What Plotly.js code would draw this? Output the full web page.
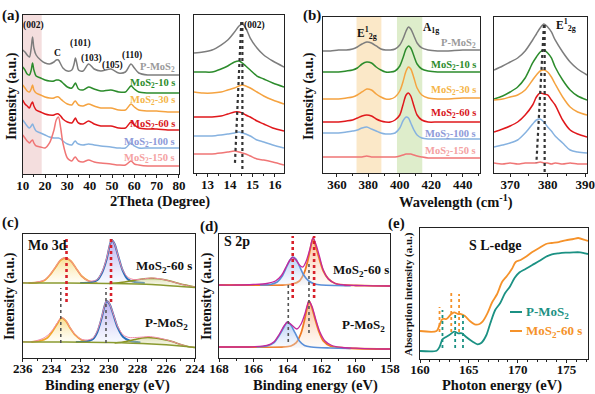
<!DOCTYPE html>
<html><head><meta charset="utf-8">
<script src="https://cdn.plot.ly/plotly-3.0.1.min.js"></script>
<style>html,body{margin:0;padding:0;background:#fff}#chart{width:595px;height:394px}</style>
</head><body><div id="chart"></div>
<script>
// ---------- (a) XRD ----------
const seriesNames = ['P-MoS<sub>2</sub>','MoS<sub>2</sub>-10 s','MoS<sub>2</sub>-30 s','MoS<sub>2</sub>-60 s','MoS<sub>2</sub>-100 s','MoS<sub>2</sub>-150 s'];
const xrdX = [10,11,12,13,13.8,14.4,15,16,18,20,22,24,25,26,27,28,30,32,33,33.6,34.3,35,37,39.5,42,45,49.5,53,56,58.5,60,62,66,70,75,80];
const xrdP   = [124,122,119,117,126,137,126,119,114,111,110,112,114,114,110,106,103,104,110,116,110,104,103,110,105,103,105,101,102,110,106,101,99,99,99,99];
const xrd10  = [107,104,100,99,104,111,104,98,96,94,93,93,94,94,93,91,87,86,89,91,88,85,84,87,85,83,84,82,82,88,85,82,81,81,81,81];
const xrd30  = [89,86,83,82,85,89,84,81,79,77,76,76,77,77,75,73,70,69,72,73,71,69,68,70,68,66,66,64,64,70,67,64,63,63,62,62];
const xrd60  = [74,70,68,66,70,72,68,64,62,60,59,59,60,60,58,55,52,51,54,56,53,51,50,53,50,48,48,46,46,52,49,46,45,45,44,44];
const xrd100 = [54,51,48,46,48,50,47,43,41,39,37,36,36,36,35,33,30,29,32,33,31,30,29,30,29,28,27,26,26,31,28,26,26,26,26,26];
const xrd150 = [39,36,33,31,33,34,31,28,27,26,31,44,54,57,46,31,16,13,16,17,15,13,12,14,12,11,10,9,9,13,10,9,8,8,8,8];
const xrdPeakLabels = ['(002)','C','(101)','(103)','(105)','(110)'];
const xrdPeakX = [15,25.6,35.9,41,50,59];
const xrdPeakY = [149,121,131,116,109,119];
const xrdBand = [10,18.5];
// (a) inset
const xrdZoomX = [12.4,12.8,13.2,13.6,13.9,14.2,14.4,14.55,14.7,14.9,15.2,15.5,15.9,16.4];
const xrdZP   = [120,121,123,128,133,141,147,149,145,135,125,118,112,106];
const xrdZ10  = [101,101,101,104,107,111,112,110,107,103,97,94,90,86];
const xrdZ30  = [81,80,80,81,83,85,87,88,87,85,81,77,73,69];
const xrdZ60  = [56,56,56,57,59,61,61,60,58,56,52,49,45,42];
const xrdZ100 = [37,37,37,38,39,40,41,40,39,37,33,31,28,25];
const xrdZ150 = [19,19,19,20,21,22,21,20,19,17,14,13,11,8];
const xrdGuideX = [[14.55,14.55],[14.5,14.22]];
const xrdGuideY = [[151,1],[151,10]];

// ---------- (b) Raman ----------
const ramX = [351,356,361,366,370,373,376,379,382,385,388,391,394,397,400,402,404,405.5,407,409,411,414,418,424,430,440,451];
const ramP   = [122,122,123,123,124,126,129,131,130,127,124,123,123,124,128,134,142,146,144,137,130,125,123,122,122,123,123];
const ram10  = [101,101,101,102,103,105,109,111,110,106,103,101,101,102,107,115,124,127,125,117,109,104,102,101,101,101,101];
const ram30  = [74,74,74,75,76,78,81,84,83,79,76,74,74,76,82,91,102,106,104,95,85,78,75,74,74,75,75];
const ram60  = [51,51,51,52,53,55,57,58,57,54,52,51,51,53,58,68,78,80,77,67,58,53,51,51,51,51,51];
const ram100 = [40,40,40,41,42,43,45,46,44,42,40,39,39,40,45,52,56,55,50,43,38,35,34,34,34,34,34];
const ram150 = [16,16,16,16,16,16,16,17,16,16,16,16,16,16,17,18,19,19,19,18,17,16,15,15,15,15,15];
const ramBandE = [372.5,388.3];
const ramBandA = [398.2,414.3];
// (b) inset
const ramZoomX = [365.7,368,370,372,374,376,377,378,379,380,381,382,384,386,388,390.5];
const ramZP   = [103,107,111,115,122,133,139,145,149,146,141,133,121,111,104,98];
const ramZ10  = [74,77,81,86,95,110,116,121,123,120,115,106,93,83,77,73];
const ramZ30  = [73,74,76,78,83,93,98,102,103,101,96,89,76,66,61,58];
const ramZ60  = [41,44,47,51,58,68,76,80,79,78,73,68,53,43,39,36];
const ramZ100 = [26,28,30,33,40,49,53,54,51,46,42,37,30,23,21,20];
const ramZ150 = [10,9,10,9,10,10,10,11,10,10,9,10,9,10,9,9];
const ramGuideX = [[379.2,379.2],[379.0,377.0]];
const ramGuideY = [[148,1],[148,10]];

// ---------- (c) Mo 3d ----------
const moUpRawX = [236,235.5,235,234.5,234.1,233.7,233.35,233.0,232.65,232.3,231.9,231.5,231.1,230.8,230.45,230.15,229.95,229.8,229.6,229.35,229.05,228.7,228.3,227.9,227.4,226.9,226.4,225.9,225.4,224.9,224.4,224];
const moUpRawY = [75.5,75,76,78,83.5,91.5,98.5,100.5,97,90,82,77.5,77,78.5,87,100,112.5,118,114,102,88.5,81,78.5,78.5,79.5,80,79,77.5,75.5,73.5,72,71];
const moUpOrX = [235.6,235,234.5,234.1,233.7,233.35,233.0,232.65,232.3,231.9,231.4,230.8];
const moUpOrY = [75,75.5,77.5,83,91,98,100,97,90,82,77,75];
const moUpBlX = [232,231.3,230.8,230.45,230.15,229.95,229.8,229.6,229.35,229.05,228.7,228.2,227.5];
const moUpBlY = [75,75.5,78,86,99,112,118,114,102,88,79,76,75];
const moUpOlX = [230,229.2,228.5,227.9,227.3,226.8,226.2,225.6,225,224.5,224];
const moUpOlY = [74.5,75.5,77,78.5,79.5,79.5,78.5,76.5,74,72.5,71];
const moBaseX = [236,233,230,227,225,224];
const moUpBaseY = [75,75,74.5,73.5,71.5,70.5];
const moLoRawX = [236,235.5,235,234.6,234.2,233.9,233.6,233.3,233.0,232.7,232.35,231.95,231.5,231.1,230.8,230.5,230.3,230.15,229.95,229.7,229.4,229.0,228.6,228.1,227.6,227.2,226.7,226.2,225.6,225,224.5,224];
const moLoRawY = [16.5,16,17.5,19.5,23.5,28.5,35,40.5,37.5,30.5,23.5,19,18,20,27.5,41,52.5,57.5,54,44.5,32,23,20.5,20.5,21,21.5,20.5,19,16.5,13.5,11.5,10.5];
const moLoOrX = [235.4,234.8,234.3,233.95,233.6,233.3,233.0,232.7,232.35,231.9,231.3];
const moLoOrY = [16,17,20,26,34,40,37,30,23,18,16];
const moLoBlX = [232.3,231.6,231.1,230.8,230.5,230.3,230.15,229.95,229.7,229.4,229.0,228.5,227.8];
const moLoBlY = [16,16.5,19,26,40,52,57,54,44,31,21,17,15.5];
const moLoOlX = [229.6,228.8,228.2,227.7,227.3,226.8,226.2,225.6,225,224.5,224];
const moLoOlY = [15,16.5,18.5,20,20.5,20,18.5,16.5,13.5,11.5,10.5];
const moLoBaseY = [16,16,15.5,14,12,10.5];
const moRedX = [232.95,229.85]; const moRedY = [56,120];
const moGrayX = [233.35,230.2]; const moGrayY = [15,70];

// ---------- (d) S 2p ----------
const sUpBlX = [165.6,165,164.6,164.3,164.05,163.85,163.7,163.5,163.3,163.05,162.75,162.4,162,161.2,160.3];
const sUpBlY = [73,73.5,76,82,91,98,101,99,92,83,77,74,73,72.5,72.3];
const sUpOrX = [168,166,164.3,163.7,163.3,163.0,162.8,162.65,162.5,162.35,162.15,161.9,161.6,161.2,160.7,160,159,158];
const sUpOrY = [73,73,73,74,77,86,98,110,120,112,100,87,79,74.5,73,72.5,72.2,72];
const sUpEnvX = [168,167,166,165.2,164.7,164.35,164.05,163.85,163.7,163.5,163.3,163.1,162.9,162.7,162.5,162.3,162.1,161.9,161.6,161.2,160.7,160,159,158];
const sUpEnvY = [73,73,73.5,74.5,77,82.5,92,98,100.5,98,93,91,97,108,120,112,100,88,79,74.5,73,72.5,72.2,72];
const sLoBlX = [165.8,165.2,164.8,164.5,164.2,164.0,163.8,163.55,163.3,163.0,162.6,161.5,160.3];
const sLoBlY = [11,12,15,22,31,36,33,25,17,12.5,11,10,9.5];
const sLoOrX = [168,166,164.3,163.8,163.5,163.2,163.0,162.85,162.74,162.6,162.4,162.15,161.9,161.5,161,160,158];
const sLoOrY = [11,11,11,12,15,25,38,50,57,52,40,26,17,12,10.5,9.5,9];
const sLoEnvX = [168,167,166,165.2,164.8,164.5,164.2,164.0,163.75,163.45,163.2,163.0,162.85,162.74,162.55,162.35,162.1,161.8,161.4,160.8,160,159,158];
const sLoEnvY = [11,11,11.2,12.5,16,23,32,36,33,29,34,43,52,57,51,39,26,17,12.5,10.5,9.8,9.2,9];
const sRedX = [163.69,162.44]; const sRedY = [60,122];
const sGrayX = [163.95,162.74]; const sGrayLo = [16,25]; const sGrayHi = [76,96];

// ---------- (e) S L-edge ----------
const xasOrX = [160,161.7,162.0,162.3,162.7,163.2,163.5,163.9,164.2,164.6,165.1,165.6,166.1,166.4,166.9,167.4,167.9,168.4,168.9,169.4,169.8,170.3,170.8,171.5,172.2,172.9,173.5,174.2,174.9,175.7,176.2,176.9,177.2];
const xasOrY = [28,28,34,40,40,45,46.7,45,45,43,38,34.7,35,37.3,45.7,57,65,77,83,90,97,99,102,107,111,115,116,117,118.7,120,121,119,118];
const xasTeX = [160,161.7,162.0,162.3,162.6,163.0,163.5,163.9,164.3,164.7,165.4,165.9,166.3,166.8,167.2,167.7,168.2,168.7,169.2,169.7,170.2,170.8,171.5,172.2,172.9,173.5,174.2,174.9,175.7,176.4,176.9,177.2];
const xasTeY = [8,8.3,12,19.7,21.7,24,27.3,25.7,25.7,22.3,17.3,14.7,16.3,24,35.7,49,55.7,65.7,72.3,81.3,86.7,90,94,98,102.3,104.7,105.7,106.3,106.7,106.7,105.7,105];
const xasOrGuideX = [162.0,163.2,164.0]; const xasOrGuideLo = [27,27,27]; const xasOrGuideHi = [52,67,65];
const xasTeGuideX = [162.3,163.6,164.4]; const xasTeGuideLo = [11,11,11]; const xasTeGuideHi = [49,47,46];

// ---------- build ----------
const F = 'Liberation Serif, Times New Roman, serif';
const C = {gray:'#7d7d7d', green:'#2c8c2c', orange:'#f5a340', red:'#e0181c', blue:'#86b2e0', pink:'#f07676'};
const seriesColors = [C.gray,C.green,C.orange,C.red,C.blue,C.pink];
const labelColors = ['#9a9a9a','#2c8c2c','#f5b547','#d8141a','#8e9ad8','#f4a2a2'];
const traces = [];
function L(x,y,xa,ya,color,width,extra){ traces.push(Object.assign({type:'scatter',mode:'lines',x:x,y:y,xaxis:xa,yaxis:ya,line:{color:color,width:width,shape:'spline',smoothing:0.8},hoverinfo:'skip',showlegend:false},extra||{})); }
function G(x,y,xa,ya,color,width){ traces.push({type:'scatter',mode:'lines',x:x,y:y,xaxis:xa,yaxis:ya,line:{color:color,width:width,dash:'dot'},hoverinfo:'skip',showlegend:false}); }
function FILL(x,y,xa,ya,lineColor,w,c0,c1){ traces.push({type:'scatter',mode:'lines',x:x,y:y,xaxis:xa,yaxis:ya,fill:'toself',fillgradient:{type:'vertical',colorscale:[[0,c0],[1,c1]]},line:{color:lineColor,width:w,shape:'spline',smoothing:0.8},hoverinfo:'skip',showlegend:false}); }

// (a)
[xrdP,xrd10,xrd30,xrd60,xrd100,xrd150].forEach((s,i)=>L(xrdX,s,'x','y',seriesColors[i],1.5));
[xrdZP,xrdZ10,xrdZ30,xrdZ60,xrdZ100,xrdZ150].forEach((s,i)=>L(xrdZoomX,s,'x2','y2',seriesColors[i],1.5));
xrdGuideX.forEach((g,i)=>G(g,xrdGuideY[i],'x2','y2','#333',2.2));
// (b)
[ramP,ram10,ram30,ram60,ram100,ram150].forEach((s,i)=>L(ramX,s,'x3','y3',seriesColors[i],1.5));
[ramZP,ramZ10,ramZ30,ramZ60,ramZ100,ramZ150].forEach((s,i)=>L(ramZoomX,s,'x4','y4',seriesColors[i],1.5));
ramGuideX.forEach((g,i)=>G(g,ramGuideY[i],'x4','y4','#333',2.2));
// (c)
FILL(moUpOrX,moUpOrY,'x5','y5','#f2a72c',1.8,'rgba(255,250,225,0.3)','rgba(246,205,90,0.7)');
FILL(moUpBlX,moUpBlY,'x5','y5','#2a6fb8',2,'rgba(225,235,255,0.3)','rgba(130,105,225,0.55)');
FILL(moUpOlX,moUpOlY,'x5','y5','#8c9420',1.6,'rgba(245,245,220,0.3)','rgba(190,195,110,0.5)');
FILL(moLoOrX,moLoOrY,'x5','y5','#f2a72c',1.8,'rgba(255,250,225,0.3)','rgba(246,205,90,0.7)');
FILL(moLoBlX,moLoBlY,'x5','y5','#2a6fb8',2,'rgba(225,235,255,0.3)','rgba(130,105,225,0.55)');
FILL(moLoOlX,moLoOlY,'x5','y5','#8c9420',1.6,'rgba(245,245,220,0.3)','rgba(190,195,110,0.5)');
L(moUpRawX,moUpRawY,'x5','y5','#f08aa8',1);
L(moLoRawX,moLoRawY,'x5','y5','#f08aa8',1);
L(moBaseX,moUpBaseY,'x5','y5','#8a9a30',1.4);
L(moBaseX,moLoBaseY,'x5','y5','#8a9a30',1.4);
moRedX.forEach(v=>G([v,v],moRedY,'x5','y5','#d8202a',2.6));
moGrayX.forEach(v=>G([v,v],moGrayY,'x5','y5','#555',1.6));
// (d)
FILL(sUpOrX,sUpOrY,'x6','y6','#f07a22',1.8,'rgba(255,245,235,0.3)','rgba(245,140,70,0.6)');
FILL(sUpBlX,sUpBlY,'x6','y6','#5a8fd8',1.6,'rgba(235,242,255,0.3)','rgba(130,170,235,0.6)');
FILL(sLoOrX,sLoOrY,'x6','y6','#f07a22',1.8,'rgba(255,245,235,0.3)','rgba(245,140,70,0.6)');
FILL(sLoBlX,sLoBlY,'x6','y6','#5a8fd8',1.6,'rgba(235,242,255,0.3)','rgba(130,170,235,0.6)');
L(sUpEnvX,sUpEnvY,'x6','y6','#c4289c',1.3);
L(sLoEnvX,sLoEnvY,'x6','y6','#c4289c',1.3);
sRedX.forEach(v=>G([v,v],sRedY,'x6','y6','#d8202a',2.6));
sGrayX.forEach((v,i)=>G([v,v],[sGrayLo[i],sGrayHi[i]],'x6','y6','#555',1.6));
// (e)
L(xasOrX,xasOrY,'x7','y7','#f5922a',1.8);
L(xasTeX,xasTeY,'x7','y7','#1b9183',1.8);
xasOrGuideX.forEach((v,i)=>G([v,v],[xasOrGuideLo[i],xasOrGuideHi[i]],'x7','y7','#f5922a',1.8));
xasTeGuideX.forEach((v,i)=>G([v,v],[xasTeGuideLo[i],xasTeGuideHi[i]],'x7','y7','#1b9183',1.8));

// axes
function AX(domain, anchor, range, extra){
  return Object.assign({domain:domain, anchor:anchor, range:range, showline:true, mirror:true, linecolor:'#222', linewidth:1.1,
    ticks:'outside', ticklen:3, tickwidth:1, tickcolor:'#222', showgrid:false, zeroline:false, ticklabelstandoff:-4,
    tickfont:{family:F,size:13,color:'#111',weight:'bold'}, fixedrange:true}, extra||{});
}
function AY(domain, anchor, range){
  return {domain:domain, anchor:anchor, range:range, showline:true, mirror:true, linecolor:'#222', linewidth:1.1,
    ticks:'', showticklabels:false, showgrid:false, zeroline:false, fixedrange:true};
}
const mn = (d)=>({dtick:d, ticks:'outside', ticklen:2, tickcolor:'#222'});
const low = {ticklabelstandoff:-5};
const layout = {
  width:595, height:394, margin:{l:0,r:0,t:0,b:0}, paper_bgcolor:'#fff', plot_bgcolor:'rgba(0,0,0,0)',
  font:{family:F, color:'#111'}, showlegend:false,
  xaxis: AX([0.0382,0.3008],'y',[10,80],{tickvals:[10,20,30,40,50,60,70,80], minor:mn(5)}),
  yaxis: AY([0.5584,0.9619],'x',[0,159]),
  xaxis2: AX([0.3261,0.4773],'y2',[12.4,16.4],{tickvals:[13,14,15,16], minor:mn(0.5)}),
  yaxis2: AY([0.5609,0.9619],'x2',[0,158]),
  xaxis3: AX([0.5424,0.8067],'y3',[351,451],{tickvals:[360,380,400,420,440], minor:mn(10)}),
  yaxis3: AY([0.5609,0.9569],'x3',[0,156]),
  xaxis4: AX([0.8303,0.9866],'y4',[365.7,390.5],{tickvals:[370,380,390], minor:mn(5)}),
  yaxis4: AY([0.5609,0.9569],'x4',[0,156]),
  xaxis5: AX([0.0382,0.3277],'y5',[236,224],Object.assign({tickvals:[236,234,232,230,228,226,224], minor:mn(1)},low)),
  yaxis5: AY([0.0914,0.4061],'x5',[0,124]),
  xaxis6: AX([0.3681,0.6555],'y6',[168,158],Object.assign({tickvals:[168,166,164,162,160,158], minor:mn(1)},low)),
  yaxis6: AY([0.0914,0.4061],'x6',[0,124]),
  xaxis7: AX([0.7059,0.9882],'y7',[160,177.2],Object.assign({tickvals:[160,165,170,175], minor:mn(1)},low)),
  yaxis7: AY([0.0888,0.4213],'x7',[0,131]),
  shapes: [
    {type:'rect',xref:'x',yref:'y domain',x0:xrdBand[0],x1:xrdBand[1],y0:0,y1:1,fillcolor:'#f4dede',line:{width:0},layer:'below'},
    {type:'rect',xref:'x3',yref:'y3 domain',x0:ramBandE[0],x1:ramBandE[1],y0:0,y1:1,fillcolor:'#fbe8c8',line:{width:0},layer:'below'},
    {type:'rect',xref:'x3',yref:'y3 domain',x0:ramBandA[0],x1:ramBandA[1],y0:0,y1:1,fillcolor:'#deedcb',line:{width:0},layer:'below'},
    {type:'line',xref:'paper',yref:'paper',x0:510/595,x1:522/595,y0:1-312/394,y1:1-312/394,line:{color:'#1b9183',width:2}},
    {type:'line',xref:'paper',yref:'paper',x0:510/595,x1:522/595,y0:1-331/394,y1:1-331/394,line:{color:'#f5922a',width:2}}
  ],
  annotations: []
};
function T(text,x,y,size,color,extra){
  layout.annotations.push(Object.assign({text:text,x:x/595,y:1-y/394,xref:'paper',yref:'paper',showarrow:false,
    font:{family:F,size:size,color:color||'#111',weight:'bold'},xanchor:'center',yanchor:'middle'},extra||{}));
}
T('(a)',11,15,15); T('(b)',312,15,15); T('(c)',10,222,15); T('(d)',209,226,15); T('(e)',396,223,15);
T('Intensity (a.u.)',12,96,14,null,{textangle:-90});
T('2Theta (Degree)',160,201,14.5);
T('Intensity (a.u.)',309,96,14,null,{textangle:-90});
T('Wavelength (cm<sup>-1</sup>)',456,201,14.5);
T('Intensity (a.u.)',10,296,14,null,{textangle:-90});
T('Binding energy (eV)',107,385,14.5);
T('Intensity (a.u.)',207,296,14,null,{textangle:-90});
T('Binding energy (eV)',315,385,14.5);
T('Absorption intensity (a.u.)',408,294,11,null,{textangle:-90});
T('Photon energy (eV)',502,385,14.5);
xrdPeakLabels.forEach((t,i)=>layout.annotations.push({text:t,x:xrdPeakX[i],y:xrdPeakY[i],xref:'x',yref:'y',showarrow:false,font:{family:F,size:9.5,color:'#111',weight:'bold'}}));
layout.annotations.push({text:'(002)',x:15.1,y:148,xref:'x2',yref:'y2',showarrow:false,font:{family:F,size:9.5,color:'#111',weight:'bold'}});
const aLabY = [67,83,101,124,142,158];
const bLabY = [43,65,90,113,134,151];
seriesNames.forEach((n,i)=>{ T(n,177,aLabY[i],10.5,labelColors[i],{xanchor:'right'}); T(n,478,bLabY[i],10.5,labelColors[i],{xanchor:'right'}); });
T('E<sup>1</sup><sub>2g</sub>',367,33,11.5);
T('A<sub>1g</sub>',431,28,11.5);
T('E<sup>1</sup><sub>2g</sub>',566,25,11.5);
T('Mo 3d',26,245,14,null,{xanchor:'left'});
T('MoS<sub>2</sub>-60 s',164,266,13);
T('P-MoS<sub>2</sub>',166,323,13);
T('S 2p',222,242,14,null,{xanchor:'left'});
T('MoS<sub>2</sub>-60 s',361,270,13);
T('P-MoS<sub>2</sub>',363,325,13);
T('S L-edge',495,245,14);
T('P-MoS<sub>2</sub>',524,312,13,'#1b9183',{xanchor:'left'});
T('MoS<sub>2</sub>-60 s',524,331,13,'#f5922a',{xanchor:'left'});

Plotly.newPlot('chart', traces, layout, {staticPlot:true, displayModeBar:false});
</script></body></html>
